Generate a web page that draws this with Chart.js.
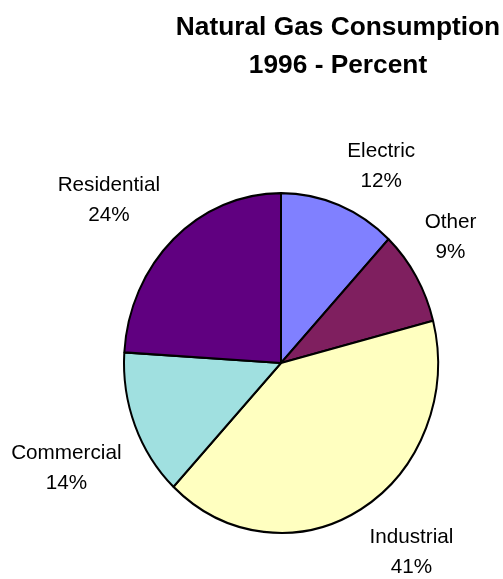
<!DOCTYPE html>
<html>
<head>
<meta charset="utf-8">
<script src="https://cdn.jsdelivr.net/npm/chart.js@4/dist/chart.umd.min.js"></script>
<style>
  html, body { margin: 0; padding: 0; background: #ffffff; }
  canvas { display: block; }
</style>
</head>
<body>
<canvas id="c" width="503" height="579"></canvas>
<script>
// ---- data ----
const categories = ["Electric", "Other", "Industrial", "Commercial", "Residential"];
const percents = [12, 9, 41, 14, 24];
const sliceColors = ["#8080FF", "#7F1F5F", "#FFFFC0", "#A0E0E0", "#600080"];
const titleLines = ["Natural Gas Consumption", "1996 - Percent"];

const FONT = '"Liberation Sans", Arial, sans-serif';
const Y_STRETCH = 171 / 158;

const stretchPlugin = {
  id: 'stretch',
  beforeDatasetsDraw(chart) {
    const arc = chart.getDatasetMeta(0).data[0];
    const ctx = chart.ctx;
    ctx.save();
    ctx.translate(arc.x, arc.y);
    ctx.scale(1, Y_STRETCH);
    ctx.translate(-arc.x, -arc.y);
  },
  afterDatasetsDraw(chart) {
    chart.ctx.restore();
  }
};

const textPlugin = {
  id: 'texts',
  afterDraw(chart) {
    const ctx = chart.ctx;
    ctx.save();
    // title
    ctx.fillStyle = '#000';
    ctx.textAlign = 'center';
    ctx.textBaseline = 'alphabetic';
    ctx.font = 'bold 26.3px ' + FONT;
    ctx.fillText(titleLines[0], 338, 35);
    ctx.fillText(titleLines[1], 338, 73);
    // slice labels
    ctx.font = '20.7px ' + FONT;
    const meta = chart.getDatasetMeta(0);
    meta.data.forEach((arc, i) => {
      const mid = (arc.startAngle + arc.endAngle) / 2;
      const rx = arc.outerRadius;
      const ry = rx * Y_STRETCH;
      const ex = arc.x + Math.cos(mid) * rx;
      const ey = arc.y + Math.sin(mid) * ry;
      const l1 = categories[i];
      const l2 = percents[i] + '%';
      const w = Math.max(ctx.measureText(l1).width, ctx.measureText(l2).width);
      const bx = ex + Math.sign(Math.cos(mid)) * (w / 2 + 11) - 2.5;
      const by = ey + Math.sign(Math.sin(mid)) * 41;
      ctx.fillText(l1, bx, by - 7.5);
      ctx.fillText(l2, bx, by + 22.5);
    });
    ctx.restore();
  }
};

new Chart(document.getElementById('c'), {
  type: 'pie',
  data: {
    labels: categories,
    datasets: [{
      data: percents,
      backgroundColor: sliceColors,
      borderColor: '#000000',
      borderWidth: 2,
      clip: false
    }]
  },
  options: {
    responsive: false,
    animation: false,
    devicePixelRatio: 1,
    radius: 157,
    layout: { padding: { left: 111, right: 52, top: 193, bottom: 46 } },
    plugins: {
      legend: { display: false },
      title: { display: false },
      tooltip: { enabled: false }
    }
  },
  plugins: [stretchPlugin, textPlugin]
});
</script>
</body>
</html>
